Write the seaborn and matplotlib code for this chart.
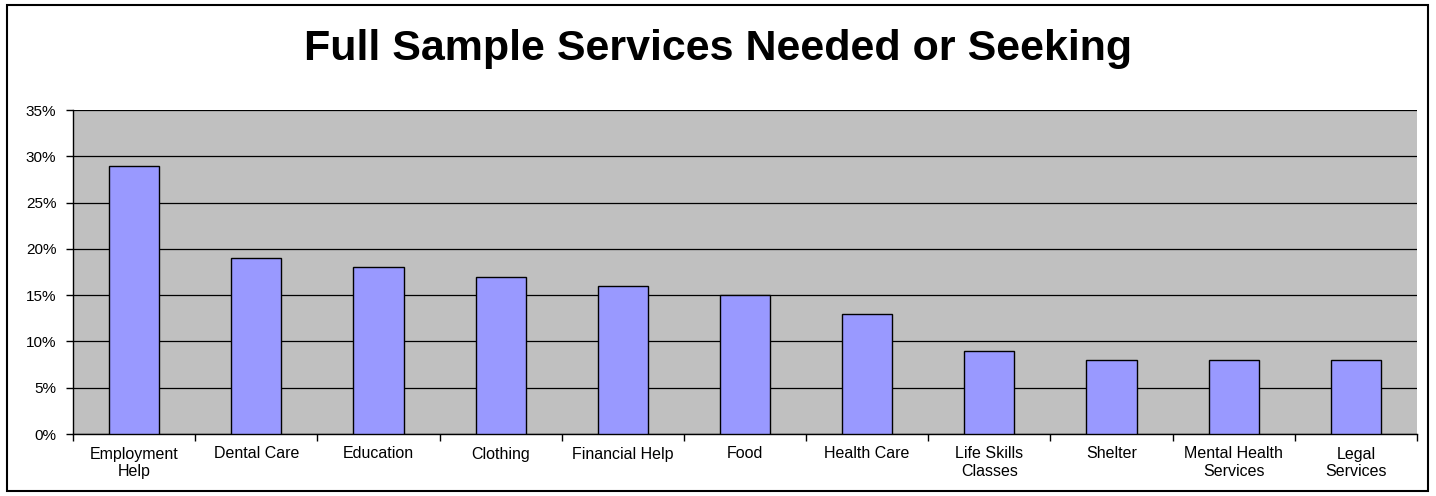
import matplotlib
matplotlib.use("Agg")
import matplotlib.pyplot as plt
import seaborn as sns
import numpy as np
import pandas as pd
from matplotlib.ticker import FixedLocator, PercentFormatter
from matplotlib.patches import Rectangle

categories = ["Employment\nHelp", "Dental Care", "Education", "Clothing", "Financial Help",
              "Food", "Health Care", "Life Skills\nClasses", "Shelter",
              "Mental Health\nServices", "Legal\nServices"]
values = [29, 19, 18, 17, 16, 15, 13, 9, 8, 8, 8]
y_ticks = [0, 5, 10, 15, 20, 25, 30, 35]
title = "Full Sample Services Needed or Seeking"

sns.set_style("white")
plt.rcParams['font.family'] = ['Liberation Sans', 'DejaVu Sans']
plt.rcParams['text.color'] = 'black'
plt.rcParams['xtick.color'] = 'black'
plt.rcParams['ytick.color'] = 'black'

df = pd.DataFrame({"category": categories, "value": values})

fig = plt.figure(figsize=(14.36, 4.96), dpi=100)
ax = fig.add_axes([73/1436, 1 - 434/496, (1417-73)/1436, (434-110)/496])

sns.barplot(data=df, x="category", y="value", color="#9999FF", saturation=1,
            edgecolor="black", linewidth=1.0, width=0.41, ax=ax, zorder=3)

ax.set_facecolor("#C0C0C0")
ax.set_ylim(0, 35)
ax.set_xlim(-0.5, len(categories) - 0.5)
ax.yaxis.set_major_locator(FixedLocator(y_ticks))
ax.yaxis.set_major_formatter(PercentFormatter(decimals=0))
ax.grid(axis="y", color="black", linewidth=0.9, zorder=0)
ax.set_axisbelow(True)
ax.set_xlabel("")
ax.set_ylabel("")

for side in ["top", "right"]:
    ax.spines[side].set_visible(False)
ax.spines["left"].set_color("black")
ax.spines["bottom"].set_color("black")
ax.spines["left"].set_linewidth(1)
ax.spines["bottom"].set_linewidth(1)

ax.tick_params(axis="y", direction="out", length=5, width=1, color="black",
               labelsize=11, pad=7, left=True, labelcolor="black")
# x ticks between categories
ax.set_xticks(np.arange(len(categories)))
ax.set_xticklabels(categories, fontsize=11.5, linespacing=1.2, color="black")
ax.tick_params(axis="x", length=0, pad=9)
ax.set_xticks(np.arange(-0.5, len(categories)), minor=True)
ax.tick_params(axis="x", which="minor", direction="out", length=5, width=1, color="black", bottom=True)

fig.text(0.5, 1 - 49/496, title, ha="center", va="center", fontsize=31,
         fontweight="bold", color="black")

# outer border
fig.patches.append(Rectangle((6.5/1436, 1 - 491/496), (1427.5-6.5)/1436, (491-5)/496,
                             transform=fig.transFigure, fill=False, edgecolor="black",
                             linewidth=1.5, zorder=10))

fig.savefig("out.png", dpi=100, facecolor="white")
